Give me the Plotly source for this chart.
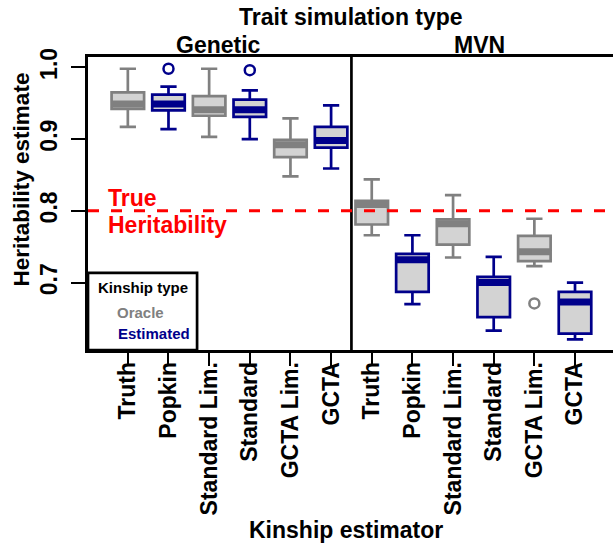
import plotly.graph_objects as go

# Kinship estimators, in plotting order within each trait panel
estimators = ["Truth", "Popkin", "Standard Lim.", "Standard", "GCTA Lim.", "GCTA"]
is_oracle = [True, False, True, False, True, False]
panels = ["Genetic", "MVN"]
true_heritability = 0.8

# Box statistics per estimator: whisker ends, quartiles and medians
genetic_lo  = [0.917, 0.914, 0.903, 0.900, 0.848, 0.859]
genetic_q1  = [0.942, 0.940, 0.9325, 0.931, 0.875, 0.888]
genetic_med = [0.949, 0.949, 0.941, 0.941, 0.892, 0.898]
genetic_q3  = [0.965, 0.962, 0.960, 0.955, 0.899, 0.917]
genetic_hi  = [0.998, 0.973, 0.998, 0.968, 0.929, 0.947]

mvn_lo  = [0.766, 0.670, 0.735, 0.633, 0.723, 0.621]
mvn_q1  = [0.781, 0.687, 0.753, 0.652, 0.730, 0.629]
mvn_med = [0.809, 0.732, 0.782, 0.700, 0.743, 0.673]
mvn_q3  = [0.814, 0.740, 0.788, 0.708, 0.765, 0.687]
mvn_hi  = [0.844, 0.766, 0.822, 0.736, 0.789, 0.700]

# Outlying replicates: (panel, estimator) and value
outlier_panel = ["Genetic", "Genetic", "MVN"]
outlier_est   = ["Popkin", "Standard", "GCTA Lim."]
outlier_val   = [0.998, 0.996, 0.671]

GRAY = "#808080"
BLUE = "#00008B"
FILL = "#D3D3D3"
FONT = "Liberation Sans"

# page geometry (pixels) of the plotting region
W, H = 613, 543
L, R, T, B = 87.9, 613.0, 57.3, 350.0

def px(xp):
    return (xp - L) / (R - L)

def py(yp):
    return (B - yp) / (B - T)

stats = {
    "Genetic": (genetic_lo, genetic_q1, genetic_med, genetic_q3, genetic_hi),
    "MVN": (mvn_lo, mvn_q1, mvn_med, mvn_q3, mvn_hi),
}

labels, positions = [], []
groups = {True: {"x": [], "lo": [], "q1": [], "med": [], "q3": [], "hi": []},
          False: {"x": [], "lo": [], "q1": [], "med": [], "q3": [], "hi": []}}
pos = 1
for p in panels:
    lo, q1, med, q3, hi = stats[p]
    for i, est in enumerate(estimators):
        g = groups[is_oracle[i]]
        g["x"].append(pos)
        g["lo"].append(lo[i]); g["q1"].append(q1[i]); g["med"].append(med[i])
        g["q3"].append(q3[i]); g["hi"].append(hi[i])
        labels.append(est)
        positions.append(pos)
        pos += 1

BOXW = 0.8
fig = go.Figure()
for oracle, color in ((True, GRAY), (False, BLUE)):
    g = groups[oracle]
    fig.add_trace(go.Box(
        x=g["x"], q1=g["q1"], median=g["med"], q3=g["q3"],
        lowerfence=g["lo"], upperfence=g["hi"],
        width=BOXW, whiskerwidth=0.5, boxpoints=False,
        fillcolor=FILL, line=dict(color=color, width=2.7),
        hoverinfo="skip", showlegend=False,
    ))
    # heavy median bars
    mx, my = [], []
    for xv, m in zip(g["x"], g["med"]):
        mx += [xv - BOXW / 2, xv + BOXW / 2, None]
        my += [m, m, None]
    fig.add_trace(go.Scatter(x=mx, y=my, mode="lines",
                             line=dict(color=color, width=7),
                             hoverinfo="skip", showlegend=False))

# outliers as open circles
for oracle, color in ((True, GRAY), (False, BLUE)):
    ox, oy = [], []
    for p, e, v in zip(outlier_panel, outlier_est, outlier_val):
        idx = estimators.index(e)
        if is_oracle[idx] == oracle:
            ox.append(panels.index(p) * len(estimators) + idx + 1)
            oy.append(v)
    if ox:
        fig.add_trace(go.Scatter(x=ox, y=oy, mode="markers",
                                 marker=dict(symbol="circle-open", size=10, color=color,
                                             line=dict(width=2.5, color=color)),
                                 hoverinfo="skip", showlegend=False))

bold = dict(family=FONT, weight="bold", color="black")

fig.update_layout(
    width=W, height=H, autosize=False,
    margin=dict(l=L, r=W - R, t=T, b=H - B, pad=0),
    paper_bgcolor="white", plot_bgcolor="white",
    showlegend=False,
    xaxis=dict(range=[0.02, 0.02 + (R - L) / 40.66], tickmode="array",
               tickvals=positions, ticktext=labels, tickangle=-90,
               ticks="outside", ticklen=13, tickwidth=2, tickcolor="black",
               ticklabelstandoff=-13,
               showline=True, linewidth=2.7, linecolor="black", mirror=True,
               showgrid=False, zeroline=False,
               tickfont=dict(size=23, **bold)),
    yaxis=dict(range=[0.6061, 1.0144], tickmode="array",
               tickvals=[0.7, 0.8, 0.9, 1.0], ticktext=["0.7", "0.8", "0.9", "1.0"],
               tickangle=-90, ticks="outside", ticklen=14, tickwidth=2, tickcolor="black",
               ticklabelstandoff=5,
               showline=True, linewidth=2.7, linecolor="black", mirror=False,
               showgrid=False, zeroline=False,
               tickfont=dict(size=23, **bold)),
)

# panel divider
fig.add_shape(type="line", xref="x", yref="paper", x0=6.5, x1=6.5, y0=0, y1=1,
              line=dict(color="black", width=2.7), layer="above")
# true heritability reference line
fig.add_shape(type="line", xref="paper", yref="y", x0=0, x1=1,
              y0=true_heritability, y1=true_heritability,
              line=dict(color="red", width=3, dash="11px,12px"), layer="above")
# legend frame
fig.add_shape(type="rect", xref="paper", yref="paper", x0=0, x1=px(197), y0=0, y1=py(273),
              line=dict(color="black", width=2.7), fillcolor="white", layer="above")

def note(text, xp, yp, size, color="black", xanchor="center", angle=0):
    fig.add_annotation(text=text, xref="paper", yref="paper", x=px(xp), y=py(yp),
                       xanchor=xanchor, yanchor="middle", showarrow=False,
                       textangle=angle,
                       font=dict(family=FONT, size=size, color=color, weight="bold"))

note("Trait simulation type", 351, 17.5, 23)
note(panels[0], 218.3, 45, 23)
note(panels[1], 479, 45, 23)
note("Kinship estimator", 346, 529.7, 23)
note("Heritability estimate", 21.5, 180, 22.5, angle=-90)
note("True", 106, 198, 23, color="red", xanchor="left")
note("Heritability", 106, 225.5, 23, color="red", xanchor="left")
note("Kinship type", 143.2, 288, 15)
note("Oracle", 140.2, 312.3, 15, color=GRAY)
note("Estimated", 154.3, 333.3, 15, color=BLUE)

fig.write_html("out.html")
